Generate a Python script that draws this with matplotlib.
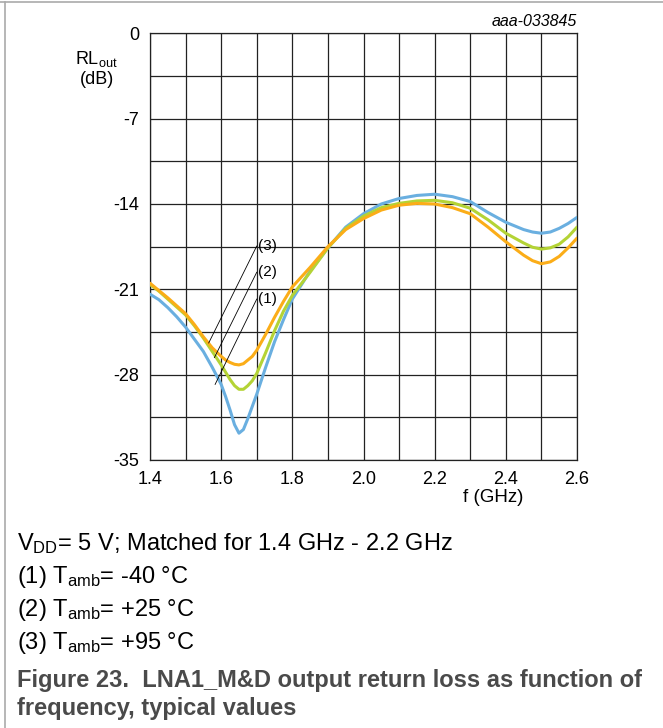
import matplotlib
matplotlib.use("Agg")
import matplotlib.pyplot as plt
from matplotlib.lines import Line2D

# ---------------- data ----------------
freq = [1.40, 1.425, 1.45, 1.475, 1.50, 1.525, 1.55, 1.575, 1.60, 1.6125, 1.625, 1.6375, 1.65,
        1.6625, 1.675, 1.6875, 1.70, 1.725, 1.75, 1.775, 1.80, 1.85, 1.90, 1.95, 2.00, 2.05,
        2.10, 2.15, 2.20, 2.25, 2.30, 2.35, 2.40, 2.45, 2.475, 2.50, 2.525, 2.55, 2.575, 2.60]
rl_m40 = [-21.4, -21.85, -22.5, -23.25, -24.1, -25.1, -26.1, -27.4, -28.8, -29.8, -30.9, -32.1,
          -32.8, -32.5, -31.6, -30.6, -29.6, -27.4, -25.3, -23.5, -21.8, -19.5, -17.6, -15.9,
          -14.8, -14.0, -13.55, -13.3, -13.2, -13.4, -13.8, -14.7, -15.5, -16.1, -16.3, -16.4,
          -16.3, -16.0, -15.6, -15.1]
rl_p25 = [-20.6, -21.15, -21.8, -22.45, -23.1, -24.0, -25.0, -26.1, -27.2, -27.8, -28.4, -28.9,
          -29.2, -29.2, -28.9, -28.5, -27.9, -26.2, -24.4, -22.8, -21.5, -19.6, -17.6, -16.0,
          -15.0, -14.3, -13.95, -13.75, -13.7, -13.9, -14.35, -15.3, -16.4, -17.2, -17.55, -17.7,
          -17.6, -17.3, -16.7, -15.9]
rl_p95 = [-20.5, -21.1, -21.7, -22.35, -23.0, -23.9, -24.9, -25.8, -26.5, -26.8, -27.0, -27.15,
          -27.2, -27.1, -26.8, -26.5, -26.0, -24.7, -23.3, -22.0, -20.8, -19.2, -17.5, -16.1,
          -15.2, -14.5, -14.1, -13.95, -14.0, -14.3, -14.8, -15.9, -17.1, -18.2, -18.65, -18.9,
          -18.75, -18.3, -17.6, -16.8]
series_labels = ["(1)", "(2)", "(3)"]
x_ticks = [1.4, 1.6, 1.8, 2.0, 2.2, 2.4, 2.6]
x_ticklabels = ["1.4", "1.6", "1.8", "2.0", "2.2", "2.4", "2.6"]
y_ticks = [0, -7, -14, -21, -28, -35]
y_ticklabels = ["0", "-7", "-14", "-21", "-28", "-35"]
# annotation leader lines: (label y, end x, end y) in data units
lead_y = [-21.8, -19.6, -17.45]
lead_end_x = [1.583, 1.581, 1.565]
lead_end_y = [-28.8, -26.6, -25.4]

# ---------------- fonts ----------------
base = "Liberation Sans"
plt.rcParams['font.family'] = [base, 'DejaVu Sans']
plt.rcParams['mathtext.fontset'] = 'custom'
plt.rcParams['mathtext.rm'] = base
plt.rcParams['mathtext.it'] = base + ':italic'
plt.rcParams['mathtext.bf'] = base + ':bold'

W, H = 663, 728
fig = plt.figure(figsize=(W / 100, H / 100), dpi=100)
ax = fig.add_axes([150 / W, 1 - 460 / H, (577 - 150) / W, (460 - 33.3) / H])

colors = ['#6aafe0', '#b4d335', '#fbad18']
for ys, c in zip([rl_m40, rl_p25, rl_p95], colors):
    ax.plot(freq, ys, color=c, lw=2.2, solid_joinstyle='round', solid_capstyle='round', zorder=3)

ax.set_xlim(1.4, 2.6)
ax.set_ylim(-35, 0)
ax.set_xticks(x_ticks)
ax.set_xticklabels(x_ticklabels)
ax.set_yticks(y_ticks)
ax.set_yticklabels(y_ticklabels)
ax.set_xticks([1.5, 1.7, 1.9, 2.1, 2.3, 2.5], minor=True)
ax.set_yticks([-3.5, -10.5, -17.5, -24.5, -31.5], minor=True)
ax.grid(True, which='both', color='#222222', lw=0.9, zorder=1)
ax.tick_params(which='both', length=0, labelsize=13)
ax.tick_params(axis='x', pad=8)
ax.tick_params(axis='y', pad=8)
for s in ax.spines.values():
    s.set_color('#222222')
    s.set_linewidth(0.9)

for lab, ly, ex, ey in zip(series_labels, lead_y, lead_end_x, lead_end_y):
    ax.plot([1.700, ex], [ly, ey], color='black', lw=0.6, zorder=4)
    ax.text(1.704, ly, lab, fontsize=11, va='center', ha='left', zorder=5)

fig.text(493 / W, 1 - 498 / H, "f (GHz)", fontsize=13.5, ha='center', va='center')
fig.text(96 / W, 1 - 59 / H, r"RL$_{\mathrm{out}}$", fontsize=13, ha='center', va='center')
fig.text(97 / W, 1 - 79 / H, "(dB)", fontsize=13, ha='center', va='center')
fig.text(577 / W, 1 - 21 / H, "aaa-033845", fontsize=11.5, style='italic', ha='right', va='center')

tfs = 17
fig.text(17 / W, 1 - 544 / H, r"V$_{\mathrm{DD}}$= 5 V; Matched for 1.4 GHz - 2.2 GHz",
         fontsize=tfs, ha='left', va='center')
fig.text(17 / W, 1 - 577 / H, r"(1) T$_{\mathrm{amb}}$= -40 °C", fontsize=tfs,
         ha='left', va='center')
fig.text(17 / W, 1 - 610 / H, r"(2) T$_{\mathrm{amb}}$= +25 °C", fontsize=tfs,
         ha='left', va='center')
fig.text(17 / W, 1 - 643 / H, r"(3) T$_{\mathrm{amb}}$= +95 °C", fontsize=tfs,
         ha='left', va='center')
fig.text(17 / W, 1 - 681 / H, "Figure 23.  LNA1_M&D output return loss as function of",
         fontsize=tfs, weight='bold', color='#4a4a4a', ha='left', va='center')
fig.text(17 / W, 1 - 709 / H, "frequency, typical values",
         fontsize=tfs, weight='bold', color='#4a4a4a', ha='left', va='center')

fig.add_artist(Line2D([0, 1], [1 - 2 / H, 1 - 2 / H], transform=fig.transFigure,
                      color='#aaaaaa', lw=1.2))
fig.add_artist(Line2D([4.5 / W, 4.5 / W], [0, 1 - 2 / H], transform=fig.transFigure,
                      color='#aaaaaa', lw=1.2))

fig.savefig("out.png", dpi=100)
